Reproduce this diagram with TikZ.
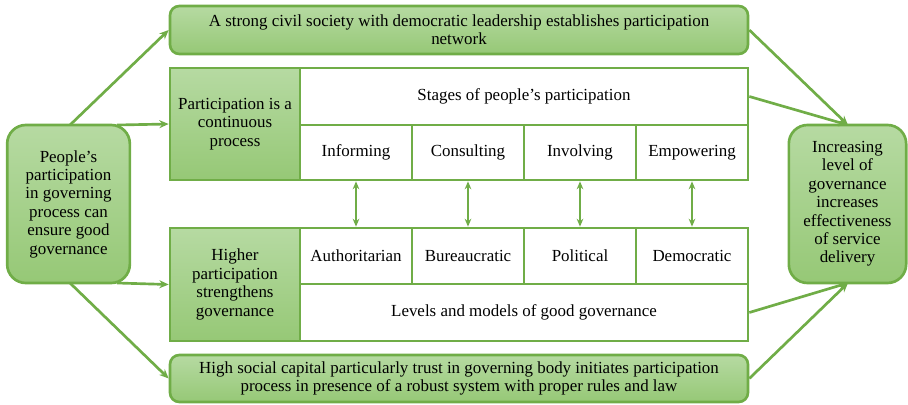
\documentclass[tikz,border=0pt]{standalone}
\usepackage{fontspec}
\setmainfont{Liberation Serif}
\usetikzlibrary{arrows.meta}
\definecolor{gline}{RGB}{112,173,71}
\definecolor{gtop}{RGB}{182,218,162}
\definecolor{gbot}{RGB}{150,200,118}
\tikzset{
  txt/.style={font=\fontsize{12.7pt}{13.8pt}\selectfont, align=center, inner sep=0pt},
  greenbox/.style={txt, draw=gline, line width=2pt, top color=gtop, bottom color=gbot},
  roundbox/.style={greenbox, rounded corners=14pt},
  softbox/.style={greenbox, rounded corners=7pt},
  whitebox/.style={txt, draw=gline, line width=2pt, fill=white},
  link/.style={draw=gline, line width=2pt, -{Stealth[length=7pt,width=6pt]}},
  twoway/.style={draw=gline, line width=2pt, {Stealth[length=6pt,width=5pt]}-{Stealth[length=6pt,width=5pt]}}
}
\begin{document}
\begin{tikzpicture}[x=0.75pt, y=-0.75pt]
  \useasboundingbox (0,0) rectangle (908,404);
  % side boxes
  \node[roundbox, minimum width=92pt, minimum height=118.5pt] (people) at (68.5,204)
    {People's\\participation\\in governing\\process can\\ensure good\\governance};
  \node[roundbox, minimum width=88pt, minimum height=118.5pt] (result) at (847.5,204)
    {Increasing\\level of\\governance\\increases\\effectiveness\\of service\\delivery};
  % top and bottom boxes
  \node[softbox, minimum width=433.5pt, minimum height=36pt] (civil) at (459,30)
    {A strong civil society with democratic leadership establishes participation\\network};
  \node[softbox, minimum width=433.5pt, minimum height=35.25pt] (capital) at (459,378.5)
    {High social capital particularly trust in governing body initiates participation\\process in presence of a robust system with proper rules and law};
  % stages of participation
  \node[greenbox, minimum width=97.5pt, minimum height=84pt] (process) at (235,124)
    {Participation is a\\continuous\\process};
  \node[whitebox, minimum width=336pt, minimum height=42.75pt] (stages) at (524,96.5)
    {Stages of people's participation};
  \node[whitebox, minimum width=84pt, minimum height=41.25pt] (inform) at (356,152.5) {Informing};
  \node[whitebox, minimum width=84pt, minimum height=41.25pt] (consult) at (468,152.5) {Consulting};
  \node[whitebox, minimum width=84pt, minimum height=41.25pt] (involve) at (580,152.5) {Involving};
  \node[whitebox, minimum width=84pt, minimum height=41.25pt] (empower) at (692,152.5) {Empowering};
  % levels of governance
  \node[greenbox, minimum width=97.5pt, minimum height=84.75pt] (higher) at (235,284.5)
    {Higher\\participation\\strengthens\\governance};
  \node[whitebox, minimum width=84pt, minimum height=42pt] (auth) at (356,256) {Authoritarian};
  \node[whitebox, minimum width=84pt, minimum height=42pt] (bureau) at (468,256) {Bureaucratic};
  \node[whitebox, minimum width=84pt, minimum height=42pt] (polit) at (580,256) {Political};
  \node[whitebox, minimum width=84pt, minimum height=42pt] (democ) at (692,256) {Democratic};
  \node[whitebox, minimum width=336pt, minimum height=42.75pt] (levels) at (524,312.5)
    {Levels and models of good governance};
  % arrows out of the left box
  \coordinate (pA) at (70,125);
  \coordinate (pB) at (117,125);
  \coordinate (pC) at (117,283);
  \coordinate (pD) at (70,283);
  \coordinate (rIn) at (848,125);
  \coordinate (rOut) at (848,283);
  \draw[link] (pA) -- (civil.west);
  \draw[link] (pB) -- (process.west);
  \draw[link] (pC) -- (higher.west);
  \draw[link] (pD) -- (capital.west);
  % arrows into the right box
  \draw[link] (civil.east) -- (rIn);
  \draw[link] (stages.east) -- (rIn);
  \draw[link] (levels.east) -- (rOut);
  \draw[link] (capital.east) -- (rOut);
  % stage <-> level
  \draw[twoway] (inform) -- (auth);
  \draw[twoway] (consult) -- (bureau);
  \draw[twoway] (involve) -- (polit);
  \draw[twoway] (empower) -- (democ);
\end{tikzpicture}
\end{document}
